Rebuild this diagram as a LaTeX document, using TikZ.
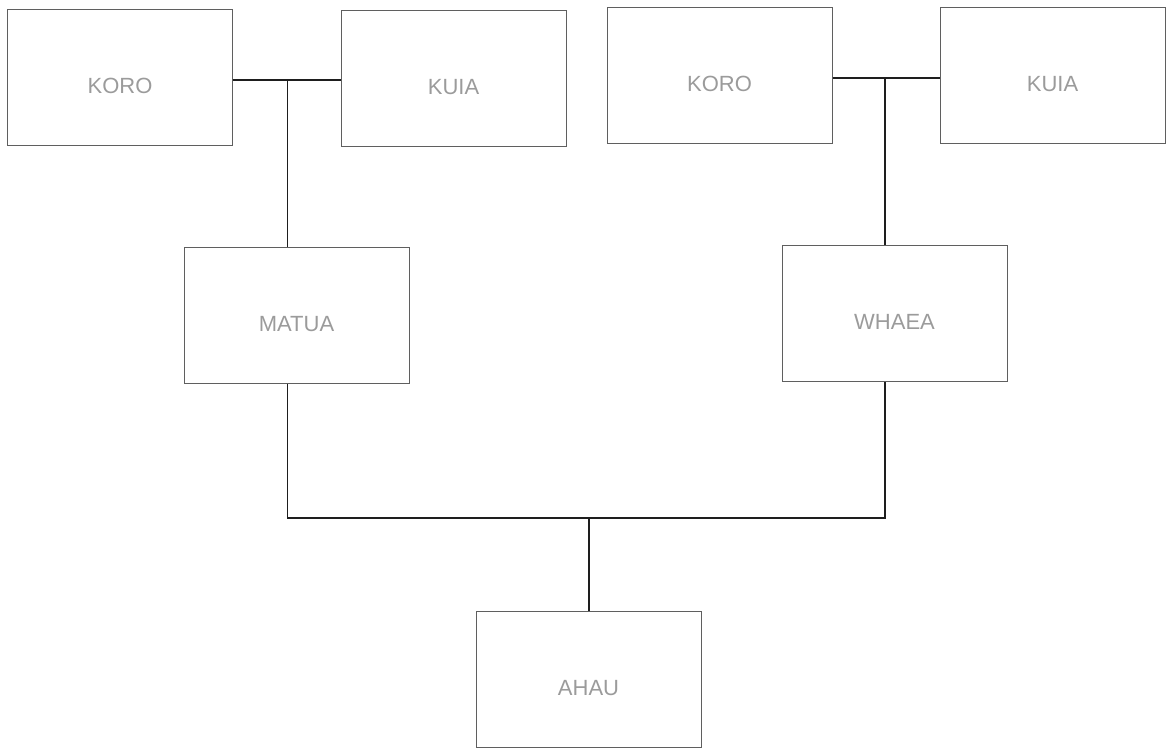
\documentclass[tikz,border=0pt]{standalone}
\usepackage{fontspec}
\setmainfont{Liberation Sans}
\usepackage{tikz}
\usetikzlibrary{calc, positioning}
\usepackage{xcolor}
\definecolor{boxline}{RGB}{95, 95, 95}
\definecolor{linkline}{RGB}{30, 30, 30}
\definecolor{nametext}{RGB}{155, 155, 155}

\begin{document}
\begin{tikzpicture}[x=1pt, y=-1pt,
    person/.style={draw=boxline, line width=1pt, rectangle,
      minimum width=225pt, minimum height=136pt, inner sep=0pt,
      text=nametext, text height=32pt, text depth=0pt,
      font=\fontsize{22}{26}\selectfont},
    link/.style={draw=linkline, line width=1.2pt}]
  \useasboundingbox (0,0) rectangle (1166,747);

  % Grandparents
  \node[person] (koroL) at (120,77) {KORO};
  \node[person] (kuiaL) at (453.5,78.5) {KUIA};
  \node[person] (koroR) at (719.5,75) {KORO};
  \node[person] (kuiaR) at (1052.5,75) {KUIA};

  % Parents and child
  \node[person] (matua) at (296.5,315) {MATUA};
  \node[person] (whaea) at (894.5,313) {WHAEA};
  \node[person] (ahau) at (588.5,679.5) {AHAU};

  % Junctions
  \coordinate (jL) at (287.5,80);
  \coordinate (jR) at (885,78);
  \coordinate (base) at (589,518);

  % Couples
  \draw[link] (koroL.east |- jL) -- (kuiaL.west |- jL);
  \draw[link] (jL) -- (jL |- matua.north);
  \draw[link] (koroR.east |- jR) -- (kuiaR.west |- jR);
  \draw[link] (jR) -- (jR |- whaea.north);

  % Parents to child
  \draw[link] (jL |- matua.south) -- (jL |- base) -- (jR |- base) -- (jR |- whaea.south);
  \draw[link] (base) -- (base |- ahau.north);
\end{tikzpicture}
\end{document}
